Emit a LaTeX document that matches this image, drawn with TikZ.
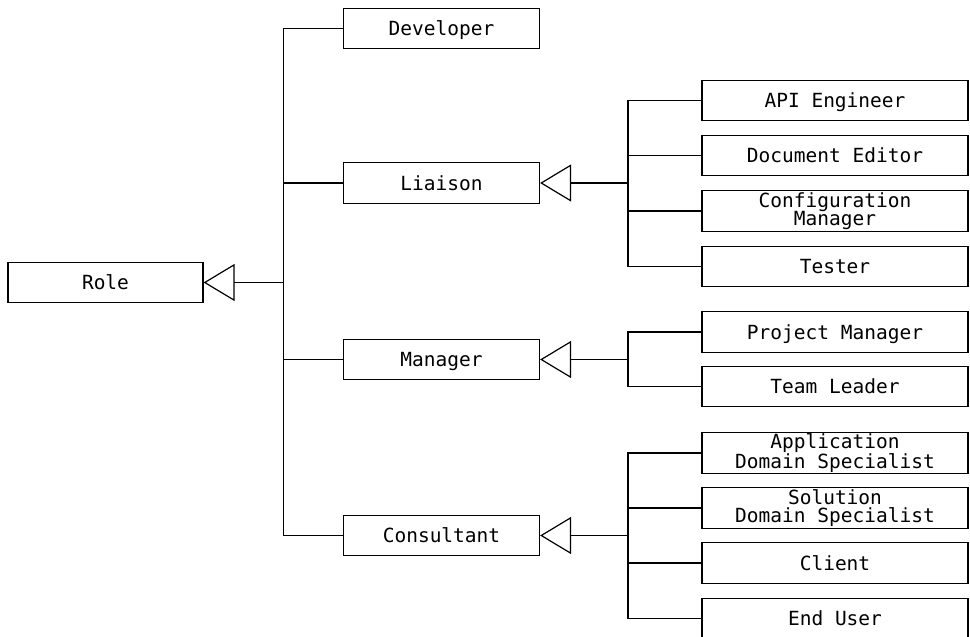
\documentclass[tikz,border=0pt]{standalone}
\usepackage{fontspec}
\setmonofont{DejaVu Sans Mono}
\usetikzlibrary{arrows.meta}
\begin{document}
\begin{tikzpicture}[x=1pt,y=-1pt,line width=1.2pt,
  box/.style={draw, line width=1.2pt, minimum height=40.5pt, inner sep=0pt, align=center,
    font=\fontsize{19.5}{18.5}\selectfont\ttfamily},
  one/.style={text height=14.2pt, text depth=0pt},
  lbox/.style={box, minimum width=195pt},
  rbox/.style={box, minimum width=266pt},
  gen/.style={-{Triangle[open,length=31pt,width=37pt,line width=1.2pt]}, line width=1.2pt},
  conn/.style={line width=1.2pt, line join=miter}]
\useasboundingbox (0,0) rectangle (970,637);
% nodes
\node[lbox, one] (role) at (105.5,282.5) {Role};
\node[lbox, one, minimum width=196pt] (dev) at (441.5,28.5) {Developer};
\node[lbox, one, minimum width=196pt] (lia) at (441.5,183) {Liaison};
\node[lbox, one, minimum width=196pt] (man) at (441.5,359.5) {Manager};
\node[lbox, one, minimum width=196pt] (con) at (441.5,535.5) {Consultant};
\node[rbox, one] (api) at (835,100.5) {API Engineer};
\node[rbox, one] (doc) at (835,155.5) {Document Editor};
\node[rbox] (cfg) at (835,211) {Configuration\\Manager};
\node[rbox, one] (tst) at (835,266.5) {Tester};
\node[rbox, one] (pm) at (835,332) {Project Manager};
\node[rbox, one] (tl) at (835,386.5) {Team Leader};
\node[rbox] (app) at (835,453) {Application\\Domain Specialist};
\node[rbox] (sol) at (835,508) {Solution\\Domain Specialist};
\node[rbox, one] (cli) at (835,563) {Client};
\node[rbox, one] (eu) at (835,618.5) {End User};
% junction coordinates
\coordinate (j0) at (283.5,282.5);
\coordinate (j1) at (628,183);
\coordinate (j2) at (628,359.5);
\coordinate (j3) at (628,535.5);
% Role hierarchy
\draw[gen] (j0) -- (role.east);
\draw[conn] (dev.west) -- (dev.west -| j0) -- (con.west -| j0) -- (con.west);
\draw[conn] (lia.west) -- (lia.west -| j0);
\draw[conn] (man.west) -- (man.west -| j0);
% Liaison
\draw[gen] (j1) -- (lia.east);
\draw[conn] (api.west) -- (api.west -| j1) -- (tst.west -| j1) -- (tst.west);
\draw[conn] (doc.west) -- (doc.west -| j1);
\draw[conn] (cfg.west) -- (cfg.west -| j1);
% Manager
\draw[gen] (j2) -- (man.east);
\draw[conn] (pm.west) -- (pm.west -| j2) -- (tl.west -| j2) -- (tl.west);
% Consultant
\draw[gen] (j3) -- (con.east);
\draw[conn] (app.west) -- (app.west -| j3) -- (eu.west -| j3) -- (eu.west);
\draw[conn] (sol.west) -- (sol.west -| j3);
\draw[conn] (cli.west) -- (cli.west -| j3);
\end{tikzpicture}
\end{document}
